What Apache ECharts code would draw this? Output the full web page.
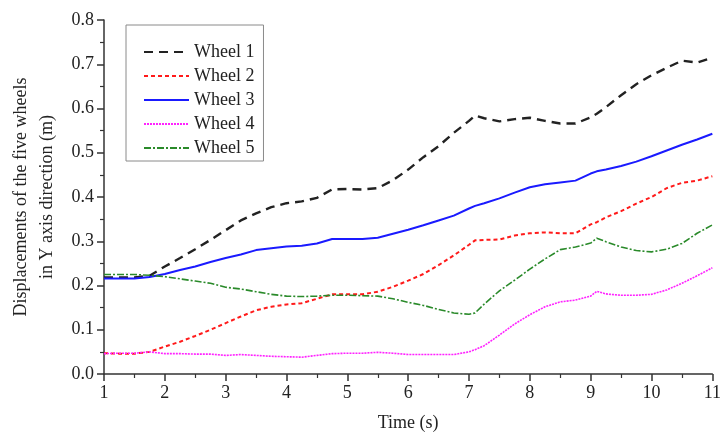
<!DOCTYPE html>
<html>
<head>
<meta charset="utf-8">
<script src="https://cdn.jsdelivr.net/npm/echarts@6/dist/echarts.min.js"></script>
<style>
  html, body { margin:0; padding:0; background:#fff; }
  #chart { width:724px; height:437px; }
</style>
</head>
<body>
<div id="chart"></div>
<script>
// time axis (s) — 0.25 s steps plus the two kink points
const times = [1,1.25,1.5,1.75,2,2.25,2.5,2.75,3,3.25,3.5,3.75,4,4.25,4.5,4.75,5,5.25,5.5,5.75,
  6,6.25,6.5,6.75,7,7.1,7.25,7.5,7.75,8,8.25,8.5,8.75,9,9.1,9.25,9.5,9.75,10,10.25,10.5,10.75,11];

const wheel1 = [0.218,0.218,0.218,0.222,0.243,0.262,0.282,0.303,0.325,0.347,0.363,0.377,0.386,0.390,0.398,0.417,
  0.418,0.417,0.420,0.438,0.462,0.490,0.515,0.545,0.572,0.584,0.578,0.571,0.576,0.579,0.572,0.566,0.566,
  0.580,0.588,0.603,0.630,0.655,0.675,0.692,0.708,0.704,0.715];
const wheel2 = [0.047,0.046,0.046,0.050,0.062,0.073,0.086,0.100,0.115,0.130,0.144,0.152,0.157,0.160,0.170,0.180,
  0.180,0.180,0.186,0.197,0.211,0.226,0.246,0.268,0.292,0.302,0.303,0.304,0.313,0.318,0.320,0.318,0.318,
  0.338,0.343,0.354,0.368,0.385,0.400,0.420,0.432,0.437,0.447];
const wheel3 = [0.216,0.216,0.216,0.219,0.226,0.235,0.243,0.253,0.262,0.270,0.280,0.284,0.288,0.290,0.295,0.305,
  0.305,0.305,0.308,0.317,0.326,0.336,0.347,0.358,0.374,0.380,0.386,0.397,0.410,0.422,0.429,0.433,0.437,
  0.453,0.458,0.462,0.470,0.480,0.492,0.505,0.518,0.530,0.543];
const wheel4 = [0.046,0.047,0.047,0.050,0.046,0.046,0.045,0.045,0.042,0.044,0.042,0.040,0.039,0.038,0.042,0.046,
  0.047,0.047,0.049,0.047,0.044,0.044,0.044,0.044,0.050,0.055,0.064,0.088,0.113,0.134,0.152,0.163,0.167,
  0.176,0.187,0.181,0.178,0.178,0.180,0.190,0.205,0.222,0.240];
const wheel5 = [0.225,0.225,0.225,0.223,0.220,0.215,0.210,0.205,0.196,0.192,0.186,0.180,0.176,0.175,0.176,0.178,
  0.178,0.177,0.176,0.170,0.162,0.155,0.146,0.138,0.135,0.138,0.158,0.188,0.212,0.237,0.260,0.281,0.287,
  0.296,0.307,0.299,0.287,0.279,0.276,0.282,0.295,0.318,0.337];

const names = ['Wheel 1','Wheel 2','Wheel 3','Wheel 4','Wheel 5'];
const FONT = "'Liberation Serif', 'Times New Roman', serif";
const TXT = '#222';

const styles = [
  {color:'#222222', width:2.4, type:[9,6]},
  {color:'#ff1a1a', width:2,   type:[4,3]},
  {color:'#1a1aff', width:2,   type:'solid'},
  {color:'#ff22ff', width:1.6, type:[2,1]},
  {color:'#2a8a2a', width:1.6, type:[7,2,2,2]}
];
const values = [wheel1, wheel2, wheel3, wheel4, wheel5];

const axisCommon = {
  axisLine:{show:true, lineStyle:{color:'#333', width:1.5}},
  axisTick:{show:true, inside:false, length:7, lineStyle:{color:'#333', width:1.5}},
  minorTick:{show:true, splitNumber:2, length:4, lineStyle:{color:'#333', width:1.2}},
  splitLine:{show:false},
  axisLabel:{color:TXT, fontFamily:FONT, fontSize:18, margin:10},
  nameTextStyle:{color:TXT, fontFamily:FONT, fontSize:18}
};

const chart = echarts.init(document.getElementById('chart'), null, {renderer:'canvas'});
chart.setOption({
  backgroundColor:'#fff',
  animation:false,
  grid:{left:101, right:6, top:20, bottom:60, containLabel:false},
  legend:{
    orient:'vertical', left:126, top:25,
    data:names,
    itemWidth:45, itemHeight:14, itemGap:6,
    padding:[18, 9, 4, 17],
    borderColor:'#8a8a8a', borderWidth:1,
    itemStyle:{opacity:0},
    textStyle:{color:TXT, fontFamily:FONT, fontSize:18, lineHeight:18}
  },
  xAxis:{
    type:'value', min:1, max:11, interval:1,
    name:'Time (s)', nameLocation:'middle', nameGap:40,
    ...axisCommon
  },
  yAxis:{
    type:'value', min:0, max:0.8, interval:0.1,
    name:'Displacements of the five wheels\nin Y axis direction (m)',
    nameLocation:'middle', nameGap:44,
    ...axisCommon,
    nameTextStyle:{color:TXT, fontFamily:FONT, fontSize:18, lineHeight:26},
    axisLabel:{...axisCommon.axisLabel, formatter:v=>v.toFixed(1)}
  },
  series: names.map((n,i)=>({
    name:n, type:'line', symbol:'none', smooth:false,
    data: times.map((t,k)=>[t, values[i][k]]),
    lineStyle:{color:styles[i].color, width:styles[i].width, type:styles[i].type},
    itemStyle:{color:styles[i].color}
  }))
});
</script>
</body>
</html>
